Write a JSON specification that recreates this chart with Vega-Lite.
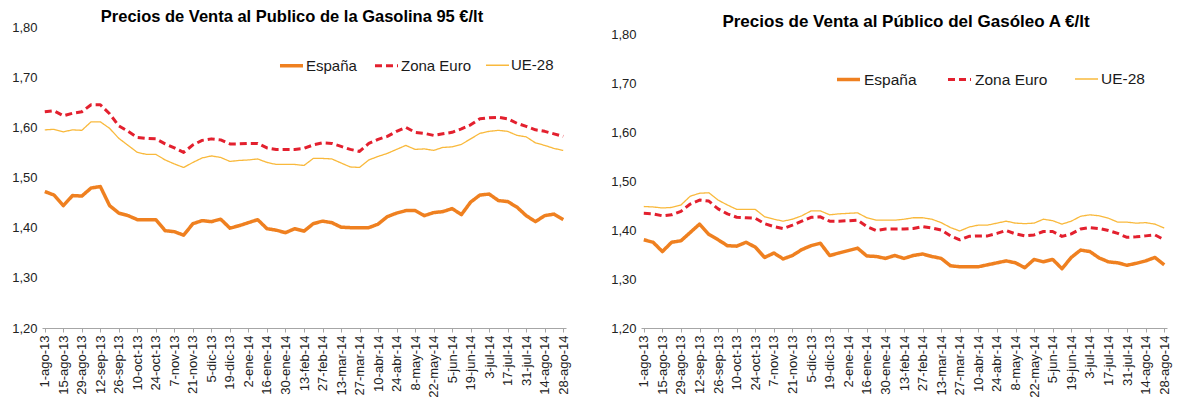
{
  "$schema": "https://vega.github.io/schema/vega-lite/v6.json",
  "background": "white",
  "padding": {"left": 11, "top": 8, "right": 5, "bottom": 0},
  "config": {
    "font": "Liberation Sans",
    "view": {"stroke": null},
    "axis": {"labelFont": "Liberation Sans", "labelFontSize": 13, "labelColor": "#222222", "grid": false, "title": null},
    "legend": {"labelFont": "Liberation Sans", "labelFontSize": 15, "labelColor": "#1a1a1a", "padding": 0},
    "title": {"font": "Liberation Sans", "fontSize": 17, "fontWeight": "bold", "color": "#000000", "anchor": "middle", "baseline": "bottom"}
  },
  "datasets": {
    "gasolina": [
      {"f":"1-ago-13","España":1.472,"Zona Euro":1.631,"UE-28":1.595},
      {"f":"8-ago-13","España":1.465,"Zona Euro":1.633,"UE-28":1.596},
      {"f":"15-ago-13","España":1.444,"Zona Euro":1.623,"UE-28":1.591},
      {"f":"22-ago-13","España":1.464,"Zona Euro":1.628,"UE-28":1.595},
      {"f":"29-ago-13","España":1.463,"Zona Euro":1.631,"UE-28":1.594},
      {"f":"5-sep-13","España":1.479,"Zona Euro":1.645,"UE-28":1.611},
      {"f":"12-sep-13","España":1.482,"Zona Euro":1.645,"UE-28":1.611},
      {"f":"19-sep-13","España":1.444,"Zona Euro":1.627,"UE-28":1.598},
      {"f":"26-sep-13","España":1.429,"Zona Euro":1.603,"UE-28":1.578},
      {"f":"3-oct-13","España":1.424,"Zona Euro":1.592,"UE-28":1.564},
      {"f":"10-oct-13","España":1.416,"Zona Euro":1.580,"UE-28":1.550},
      {"f":"17-oct-13","España":1.416,"Zona Euro":1.578,"UE-28":1.546},
      {"f":"24-oct-13","España":1.416,"Zona Euro":1.577,"UE-28":1.546},
      {"f":"31-oct-13","España":1.394,"Zona Euro":1.567,"UE-28":1.535},
      {"f":"7-nov-13","España":1.392,"Zona Euro":1.559,"UE-28":1.527},
      {"f":"14-nov-13","España":1.385,"Zona Euro":1.550,"UE-28":1.520},
      {"f":"21-nov-13","España":1.408,"Zona Euro":1.565,"UE-28":1.530},
      {"f":"28-nov-13","España":1.414,"Zona Euro":1.574,"UE-28":1.539},
      {"f":"5-dic-13","España":1.412,"Zona Euro":1.577,"UE-28":1.543},
      {"f":"12-dic-13","España":1.417,"Zona Euro":1.575,"UE-28":1.540},
      {"f":"19-dic-13","España":1.399,"Zona Euro":1.567,"UE-28":1.532},
      {"f":"26-dic-13","España":1.404,"Zona Euro":1.567,"UE-28":1.534},
      {"f":"2-ene-14","España":1.410,"Zona Euro":1.568,"UE-28":1.535},
      {"f":"9-ene-14","España":1.416,"Zona Euro":1.568,"UE-28":1.537},
      {"f":"16-ene-14","España":1.398,"Zona Euro":1.559,"UE-28":1.530},
      {"f":"23-ene-14","España":1.395,"Zona Euro":1.556,"UE-28":1.526},
      {"f":"30-ene-14","España":1.390,"Zona Euro":1.556,"UE-28":1.526},
      {"f":"6-feb-14","España":1.398,"Zona Euro":1.556,"UE-28":1.526},
      {"f":"13-feb-14","España":1.393,"Zona Euro":1.558,"UE-28":1.524},
      {"f":"20-feb-14","España":1.408,"Zona Euro":1.565,"UE-28":1.538},
      {"f":"27-feb-14","España":1.413,"Zona Euro":1.569,"UE-28":1.538},
      {"f":"6-mar-14","España":1.410,"Zona Euro":1.568,"UE-28":1.537},
      {"f":"13-mar-14","España":1.401,"Zona Euro":1.562,"UE-28":1.529},
      {"f":"20-mar-14","España":1.400,"Zona Euro":1.556,"UE-28":1.521},
      {"f":"27-mar-14","España":1.400,"Zona Euro":1.552,"UE-28":1.520},
      {"f":"3-abr-14","España":1.400,"Zona Euro":1.568,"UE-28":1.535},
      {"f":"10-abr-14","España":1.407,"Zona Euro":1.576,"UE-28":1.542},
      {"f":"17-abr-14","España":1.422,"Zona Euro":1.582,"UE-28":1.548},
      {"f":"24-abr-14","España":1.429,"Zona Euro":1.592,"UE-28":1.556},
      {"f":"1-may-14","España":1.434,"Zona Euro":1.600,"UE-28":1.564},
      {"f":"8-may-14","España":1.434,"Zona Euro":1.590,"UE-28":1.556},
      {"f":"15-may-14","España":1.424,"Zona Euro":1.588,"UE-28":1.557},
      {"f":"22-may-14","España":1.430,"Zona Euro":1.584,"UE-28":1.554},
      {"f":"29-may-14","España":1.432,"Zona Euro":1.587,"UE-28":1.560},
      {"f":"5-jun-14","España":1.438,"Zona Euro":1.590,"UE-28":1.561},
      {"f":"12-jun-14","España":1.426,"Zona Euro":1.597,"UE-28":1.566},
      {"f":"19-jun-14","España":1.451,"Zona Euro":1.605,"UE-28":1.577},
      {"f":"26-jun-14","España":1.465,"Zona Euro":1.617,"UE-28":1.588},
      {"f":"3-jul-14","España":1.467,"Zona Euro":1.619,"UE-28":1.592},
      {"f":"10-jul-14","España":1.454,"Zona Euro":1.620,"UE-28":1.594},
      {"f":"17-jul-14","España":1.452,"Zona Euro":1.617,"UE-28":1.592},
      {"f":"24-jul-14","España":1.441,"Zona Euro":1.608,"UE-28":1.584},
      {"f":"31-jul-14","España":1.424,"Zona Euro":1.602,"UE-28":1.581},
      {"f":"7-ago-14","España":1.412,"Zona Euro":1.595,"UE-28":1.569},
      {"f":"14-ago-14","España":1.424,"Zona Euro":1.592,"UE-28":1.564},
      {"f":"21-ago-14","España":1.427,"Zona Euro":1.587,"UE-28":1.558},
      {"f":"28-ago-14","España":1.416,"Zona Euro":1.582,"UE-28":1.554}
    ],
    "gasoleo": [
      {"f":"1-ago-13","España":1.380,"Zona Euro":1.434,"UE-28":1.448},
      {"f":"8-ago-13","España":1.375,"Zona Euro":1.433,"UE-28":1.447},
      {"f":"15-ago-13","España":1.356,"Zona Euro":1.429,"UE-28":1.445},
      {"f":"22-ago-13","España":1.375,"Zona Euro":1.431,"UE-28":1.446},
      {"f":"29-ago-13","España":1.378,"Zona Euro":1.438,"UE-28":1.451},
      {"f":"5-sep-13","España":1.395,"Zona Euro":1.453,"UE-28":1.469},
      {"f":"12-sep-13","España":1.412,"Zona Euro":1.461,"UE-28":1.475},
      {"f":"19-sep-13","España":1.391,"Zona Euro":1.459,"UE-28":1.476},
      {"f":"26-sep-13","España":1.380,"Zona Euro":1.443,"UE-28":1.461},
      {"f":"3-oct-13","España":1.368,"Zona Euro":1.433,"UE-28":1.451},
      {"f":"10-oct-13","España":1.367,"Zona Euro":1.426,"UE-28":1.442},
      {"f":"17-oct-13","España":1.375,"Zona Euro":1.425,"UE-28":1.442},
      {"f":"24-oct-13","España":1.365,"Zona Euro":1.424,"UE-28":1.442},
      {"f":"31-oct-13","España":1.344,"Zona Euro":1.413,"UE-28":1.427},
      {"f":"7-nov-13","España":1.353,"Zona Euro":1.407,"UE-28":1.422},
      {"f":"14-nov-13","España":1.341,"Zona Euro":1.403,"UE-28":1.418},
      {"f":"21-nov-13","España":1.348,"Zona Euro":1.410,"UE-28":1.422},
      {"f":"28-nov-13","España":1.360,"Zona Euro":1.418,"UE-28":1.429},
      {"f":"5-dic-13","España":1.368,"Zona Euro":1.426,"UE-28":1.439},
      {"f":"12-dic-13","España":1.373,"Zona Euro":1.427,"UE-28":1.439},
      {"f":"19-dic-13","España":1.348,"Zona Euro":1.418,"UE-28":1.431},
      {"f":"26-dic-13","España":1.353,"Zona Euro":1.418,"UE-28":1.433},
      {"f":"2-ene-14","España":1.358,"Zona Euro":1.419,"UE-28":1.434},
      {"f":"9-ene-14","España":1.363,"Zona Euro":1.420,"UE-28":1.435},
      {"f":"16-ene-14","España":1.347,"Zona Euro":1.407,"UE-28":1.425},
      {"f":"23-ene-14","España":1.346,"Zona Euro":1.399,"UE-28":1.420},
      {"f":"30-ene-14","España":1.342,"Zona Euro":1.402,"UE-28":1.420},
      {"f":"6-feb-14","España":1.348,"Zona Euro":1.402,"UE-28":1.420},
      {"f":"13-feb-14","España":1.342,"Zona Euro":1.402,"UE-28":1.422},
      {"f":"20-feb-14","España":1.348,"Zona Euro":1.403,"UE-28":1.425},
      {"f":"27-feb-14","España":1.351,"Zona Euro":1.407,"UE-28":1.425},
      {"f":"6-mar-14","España":1.346,"Zona Euro":1.404,"UE-28":1.422},
      {"f":"13-mar-14","España":1.342,"Zona Euro":1.400,"UE-28":1.415},
      {"f":"20-mar-14","España":1.327,"Zona Euro":1.388,"UE-28":1.405},
      {"f":"27-mar-14","España":1.325,"Zona Euro":1.380,"UE-28":1.398},
      {"f":"3-abr-14","España":1.325,"Zona Euro":1.387,"UE-28":1.406},
      {"f":"10-abr-14","España":1.325,"Zona Euro":1.388,"UE-28":1.410},
      {"f":"17-abr-14","España":1.329,"Zona Euro":1.388,"UE-28":1.410},
      {"f":"24-abr-14","España":1.333,"Zona Euro":1.393,"UE-28":1.414},
      {"f":"1-may-14","España":1.337,"Zona Euro":1.399,"UE-28":1.418},
      {"f":"8-may-14","España":1.333,"Zona Euro":1.392,"UE-28":1.414},
      {"f":"15-may-14","España":1.323,"Zona Euro":1.388,"UE-28":1.413},
      {"f":"22-may-14","España":1.340,"Zona Euro":1.390,"UE-28":1.414},
      {"f":"29-may-14","España":1.335,"Zona Euro":1.397,"UE-28":1.422},
      {"f":"5-jun-14","España":1.340,"Zona Euro":1.397,"UE-28":1.419},
      {"f":"12-jun-14","España":1.321,"Zona Euro":1.387,"UE-28":1.412},
      {"f":"19-jun-14","España":1.344,"Zona Euro":1.392,"UE-28":1.418},
      {"f":"26-jun-14","España":1.359,"Zona Euro":1.402,"UE-28":1.428},
      {"f":"3-jul-14","España":1.356,"Zona Euro":1.405,"UE-28":1.431},
      {"f":"10-jul-14","España":1.343,"Zona Euro":1.403,"UE-28":1.429},
      {"f":"17-jul-14","España":1.335,"Zona Euro":1.399,"UE-28":1.424},
      {"f":"24-jul-14","España":1.333,"Zona Euro":1.393,"UE-28":1.416},
      {"f":"31-jul-14","España":1.328,"Zona Euro":1.385,"UE-28":1.416},
      {"f":"7-ago-14","España":1.332,"Zona Euro":1.386,"UE-28":1.414},
      {"f":"14-ago-14","España":1.337,"Zona Euro":1.388,"UE-28":1.415},
      {"f":"21-ago-14","España":1.344,"Zona Euro":1.390,"UE-28":1.412},
      {"f":"28-ago-14","España":1.329,"Zona Euro":1.380,"UE-28":1.404}
    ]
  },
  "resolve": {
    "scale": {"x": "independent", "y": "independent", "color": "independent", "strokeDash": "independent", "strokeWidth": "independent"},
    "legend": {"color": "independent", "strokeDash": "independent", "strokeWidth": "independent"}
  },
  "spacing": 39,
  "hconcat": [
    {
      "width": 524,
      "height": 301,
      "title": {"text": "Precios de Venta al Publico de la Gasolina 95 €/lt", "offset": -4, "dx": -12, "fontSize": 16.5},
      "data": {"name": "gasolina"},
      "transform": [{"fold": ["España", "Zona Euro", "UE-28"], "as": ["serie", "valor"]}],
      "mark": {"type": "line", "strokeCap": "butt", "strokeJoin": "round"},
      "encoding": {
        "x": {
          "field": "f", "type": "ordinal", "sort": null,
          "scale": {"type": "point", "padding": 0.3},
          "axis": {
            "values": ["1-ago-13","15-ago-13","29-ago-13","12-sep-13","26-sep-13","10-oct-13","24-oct-13","7-nov-13","21-nov-13","5-dic-13","19-dic-13","2-ene-14","16-ene-14","30-ene-14","13-feb-14","27-feb-14","13-mar-14","27-mar-14","10-abr-14","24-abr-14","8-may-14","22-may-14","5-jun-14","19-jun-14","3-jul-14","17-jul-14","31-jul-14","14-ago-14","28-ago-14"],
            "labelAngle": -90, "domainColor": "#A6A6A6", "tickColor": "#A6A6A6", "tickSize": 4, "labelPadding": 3, "title": null
          }
        },
        "y": {
          "field": "valor", "type": "quantitative",
          "scale": {"domain": [1.2, 1.8], "nice": false, "zero": false},
          "axis": {"values": [1.2, 1.3, 1.4, 1.5, 1.6, 1.7, 1.8], "domain": false, "ticks": false, "labelPadding": 5, "labelExpr": "replace(format(datum.value, '.2f'), '.', ',')", "title": null}
        },
        "color": {
          "field": "serie", "type": "nominal",
          "scale": {"domain": ["España", "Zona Euro", "UE-28"], "range": ["#EF8020", "#E3202E", "#F9B93C"]},
          "legend": {"orient": "none", "legendX": 236, "legendY": 25, "direction": "horizontal", "title": null, "symbolType": "stroke", "symbolSize": 530, "columnPadding": 11, "labelOffset": 1}
        },
        "strokeDash": {
          "field": "serie", "type": "nominal",
          "scale": {"domain": ["España", "Zona Euro", "UE-28"], "range": [[1, 0], [7, 4], [1, 0]]},
          "legend": {"orient": "none", "legendX": 236, "legendY": 25, "direction": "horizontal", "title": null, "symbolType": "stroke", "symbolSize": 530, "columnPadding": 11, "labelOffset": 1}
        },
        "strokeWidth": {
          "field": "serie", "type": "nominal",
          "scale": {"type": "ordinal", "domain": ["España", "Zona Euro", "UE-28"], "range": [3.5, 3, 1.3]},
          "legend": {"orient": "none", "legendX": 236, "legendY": 25, "direction": "horizontal", "title": null, "symbolType": "stroke", "symbolSize": 530, "columnPadding": 11, "labelOffset": 1}
        }
      }
    },
    {
      "width": 526,
      "height": 301,
      "title": {"text": "Precios de Venta al Público del Gasóleo A €/lt", "offset": -4, "dx": 2, "fontSize": 17},
      "data": {"name": "gasoleo"},
      "transform": [{"fold": ["España", "Zona Euro", "UE-28"], "as": ["serie", "valor"]}],
      "mark": {"type": "line", "strokeCap": "butt", "strokeJoin": "round"},
      "encoding": {
        "x": {
          "field": "f", "type": "ordinal", "sort": null,
          "scale": {"type": "point", "padding": 0.3},
          "axis": {
            "values": ["1-ago-13","15-ago-13","29-ago-13","12-sep-13","26-sep-13","10-oct-13","24-oct-13","7-nov-13","21-nov-13","5-dic-13","19-dic-13","2-ene-14","16-ene-14","30-ene-14","13-feb-14","27-feb-14","13-mar-14","27-mar-14","10-abr-14","24-abr-14","8-may-14","22-may-14","5-jun-14","19-jun-14","3-jul-14","17-jul-14","31-jul-14","14-ago-14","28-ago-14"],
            "labelAngle": -90, "domainColor": "#A6A6A6", "tickColor": "#A6A6A6", "tickSize": 4, "labelPadding": 3, "title": null
          }
        },
        "y": {
          "field": "valor", "type": "quantitative",
          "scale": {"domain": [1.2, 1.8143], "nice": false, "zero": false},
          "axis": {"values": [1.2, 1.3, 1.4, 1.5, 1.6, 1.7, 1.8], "domain": false, "ticks": false, "labelPadding": 5, "labelExpr": "replace(format(datum.value, '.2f'), '.', ',')", "title": null}
        },
        "color": {
          "field": "serie", "type": "nominal",
          "scale": {"domain": ["España", "Zona Euro", "UE-28"], "range": ["#EF8020", "#E3202E", "#F9B93C"]},
          "legend": {"orient": "none", "legendX": 194, "legendY": 39, "direction": "horizontal", "title": null, "symbolType": "stroke", "symbolSize": 530, "columnPadding": 24, "labelOffset": 2, "labelFontSize": 15.5}
        },
        "strokeDash": {
          "field": "serie", "type": "nominal",
          "scale": {"domain": ["España", "Zona Euro", "UE-28"], "range": [[1, 0], [7, 4], [1, 0]]},
          "legend": {"orient": "none", "legendX": 194, "legendY": 39, "direction": "horizontal", "title": null, "symbolType": "stroke", "symbolSize": 530, "columnPadding": 24, "labelOffset": 2, "labelFontSize": 15.5}
        },
        "strokeWidth": {
          "field": "serie", "type": "nominal",
          "scale": {"type": "ordinal", "domain": ["España", "Zona Euro", "UE-28"], "range": [3.5, 3, 1.3]},
          "legend": {"orient": "none", "legendX": 194, "legendY": 39, "direction": "horizontal", "title": null, "symbolType": "stroke", "symbolSize": 530, "columnPadding": 24, "labelOffset": 2, "labelFontSize": 15.5}
        }
      }
    }
  ]
}
